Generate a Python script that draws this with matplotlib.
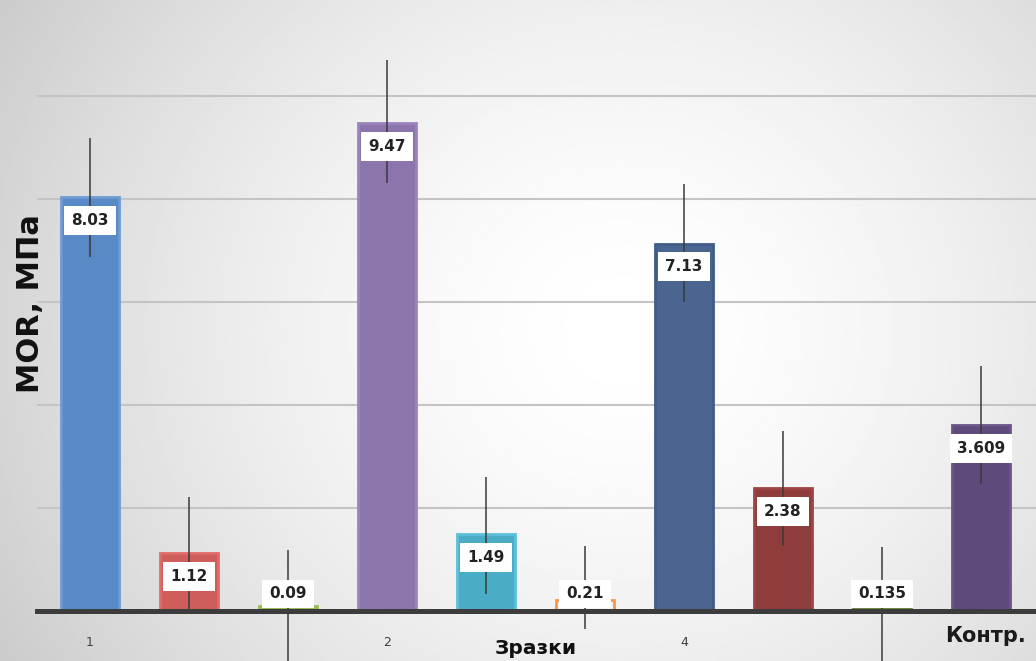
import matplotlib.pyplot as plt
import numpy as np

# %% Data
samples = ["1", "", "", "2", "", "", "4", "", "", "Контр."]
mor = [8.03, 1.12, 0.09, 9.47, 1.49, 0.21, 7.13, 2.38, 0.135, 3.609]
err_low = [1.15, 1.10, 1.15, 1.17, 1.16, 0.56, 1.13, 1.11, 1.15, 1.14]
err_high = [1.15, 1.10, 1.09, 1.22, 1.12, 1.06, 1.16, 1.11, 1.10, 1.14]
value_labels = ["8.03", "1.12", "0.09", "9.47", "1.49", "0.21", "7.13", "2.38", "0.135", "3.609"]

fill_colors = ["#5a8ac6", "#cf5d5b", "#9bbb59", "#8c74ad", "#4aacc5",
               "none", "#4a6690", "#8f3d3c", "#6f8a3b", "#5f4b7b"]
edge_colors = ["#6d9bd4", "#e06c6a", "#9bbb59", "#9b83bd", "#5cc0da",
               "#f79646", "#3f5b86", "#9e4443", "#6f8a3b", "#6a5488"]

# %% Figure
fig = plt.figure(figsize=(10.36, 6.61), dpi=100)

# soft radial gray background like the slide it came from
bg = fig.add_axes([0, 0, 1, 1], zorder=-10)
gx, gy = np.meshgrid(np.linspace(0, 1, 400), np.linspace(0, 1, 260))
d = np.sqrt(((gx - 0.6) / 0.62) ** 2 + ((gy - 0.5) / 0.9) ** 2)
shade = 1.0 - 0.17 * np.clip(d, 0, 1.2) ** 1.6
bg.imshow(shade, cmap="gray", vmin=0, vmax=1, aspect="auto", extent=[0, 1, 0, 1])
bg.axis("off")

left = 37 / 1036
bottom = 1 - 611 / 661
ax = fig.add_axes([left, bottom, 1 - left, 611 / 661])
ax.patch.set_alpha(0)

x = np.arange(len(mor))
ax.bar(x, mor, width=0.59, color=fill_colors, edgecolor=edge_colors,
       linewidth=2, zorder=3)
ax.errorbar(x, mor, yerr=[err_low, err_high], fmt="none", ecolor="#3a3a3a",
            elinewidth=1.1, capsize=0, zorder=4, clip_on=False)

for xi, v, lab in zip(x, mor, value_labels):
    ax.text(xi, max(v - 0.45, 0.33), lab, ha="center", va="center",
            fontsize=11, fontweight="bold", color="#222222", zorder=5,
            bbox=dict(boxstyle="square,pad=0.45", fc="white", ec="none"))

ax.set_ylim(0, 11.86)
ax.set_xlim(-0.535, 9.556)
ax.set_yticks([2, 4, 6, 8, 10])
ax.yaxis.grid(True, color="#c4c4c4", linewidth=1.5)
ax.set_axisbelow(True)
ax.tick_params(axis="y", left=False, labelleft=False)
ax.tick_params(axis="x", length=0, pad=18, labelsize=9, labelcolor="#404040")
for s in ["top", "right", "left", "bottom"]:
    ax.spines[s].set_visible(False)
ax.axhline(0, color="#3c3c3c", linewidth=3.6, zorder=6, clip_on=False)

# numbered samples as ticks; the control label is bigger and sits a bit higher
ax.set_xticks(x)
ax.set_xticklabels(samples[:-1] + [""])
ax.text(x[-1] + 0.05, -0.49, samples[-1], ha="center", va="center",
        fontsize=15, fontweight="bold", color="#1a1a1a", clip_on=False)

fig.text(536 / 1036, 0.005, "Зразки", ha="center", va="bottom",
         fontsize=14.5, fontweight="bold", color="#111111")
fig.text(0.029, 0.54, "MOR, МПа", rotation=90, ha="center", va="center",
         fontsize=22, fontweight="bold", color="#111111")

fig.savefig("out.png", dpi=100)
